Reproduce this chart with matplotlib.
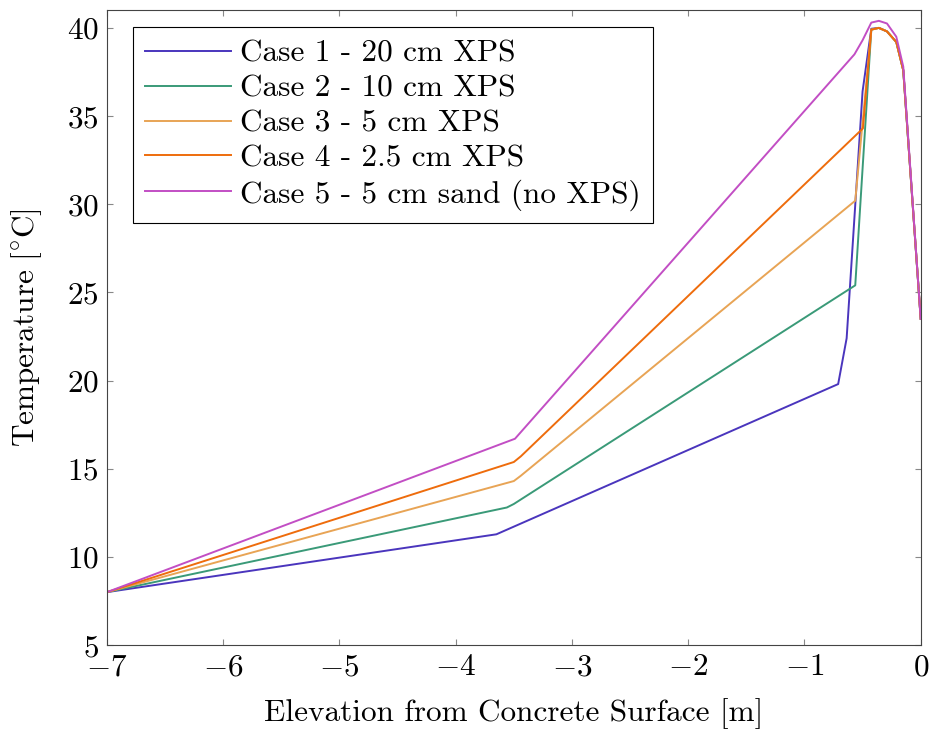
import numpy as np
import matplotlib.pyplot as plt

plt.rcParams['font.family'] = 'cmr10'
plt.rcParams['mathtext.fontset'] = 'cm'
plt.rcParams['axes.formatter.use_mathtext'] = True

# elevation [m] and temperature [C]
x_case1 = [-7.0, -3.65, -0.71, -0.637, -0.50, -0.425, -0.36, -0.29, -0.21, -0.15, 0.0]
t_case1 = [8.0, 11.28, 19.8, 22.4, 36.4, 39.95, 40.0, 39.8, 39.2, 37.6, 23.5]

x_case2 = [-7.0, -3.56, -3.5, -0.563, -0.425, -0.36, -0.29, -0.21, -0.15, 0.0]
t_case2 = [8.0, 12.8, 13.0, 25.4, 39.9, 40.0, 39.8, 39.2, 37.6, 23.5]

x_case3 = [-7.0, -3.5, -3.44, -0.563, -0.425, -0.36, -0.29, -0.21, -0.15, 0.0]
t_case3 = [8.0, 14.3, 14.6, 30.2, 39.9, 40.0, 39.8, 39.2, 37.6, 23.5]

x_case4 = [-7.0, -3.5, -3.44, -0.497, -0.425, -0.36, -0.29, -0.21, -0.15, 0.0]
t_case4 = [8.0, 15.38, 15.7, 34.3, 39.9, 40.0, 39.8, 39.2, 37.6, 23.5]

x_case5 = [-7.0, -3.49, -0.57, -0.50, -0.425, -0.36, -0.29, -0.21, -0.15, 0.0]
t_case5 = [8.0, 16.7, 38.5, 39.3, 40.3, 40.4, 40.25, 39.5, 37.8, 23.5]

labels = ['Case 1 - 20 cm XPS', 'Case 2 - 10 cm XPS', 'Case 3 - 5 cm XPS',
          'Case 4 - 2.5 cm XPS', 'Case 5 - 5 cm sand (no XPS)']
colors = ['#4a35bd', '#3a9a78', '#e8a455', '#ee6c0c', '#c24ec4']

series = [(x_case1, t_case1), (x_case2, t_case2), (x_case3, t_case3),
          (x_case4, t_case4), (x_case5, t_case5)]

fs = 22.5

fig = plt.figure(figsize=(9.3, 7.33), dpi=100)
ax = fig.add_axes([0.115, 0.12, 0.875, 0.866])

for (xs, ts), lab, c in zip(series, labels, colors):
    ax.plot(xs, ts, color=c, lw=1.4, label=lab)

ax.set_xlim(-7, 0)
ax.set_ylim(5, 41)
ax.set_yticks(np.arange(5, 41, 5))
ax.set_xticks(np.arange(-7, 1, 1))
ax.tick_params(direction='in', top=True, right=True, labelsize=fs, length=4,
               color='#888888', pad=6)
for s in ax.spines.values():
    s.set_color('#444444')

ax.set_xlabel('Elevation from Concrete Surface [m]', fontsize=fs, labelpad=12)
ax.set_ylabel(r'$\mathrm{Temperature\ [{}^{\circ}C]}$', fontsize=fs, labelpad=16)

leg = ax.legend(loc='upper left', fontsize=fs, handlelength=2.75, handletextpad=0.28,
                labelspacing=0.22, borderpad=0.4, borderaxespad=0, fancybox=False,
                framealpha=1, bbox_to_anchor=(0.032, 0.973))
leg.get_frame().set_edgecolor('black')
leg.get_frame().set_linewidth(0.8)

fig.savefig('out.png', dpi=100)
